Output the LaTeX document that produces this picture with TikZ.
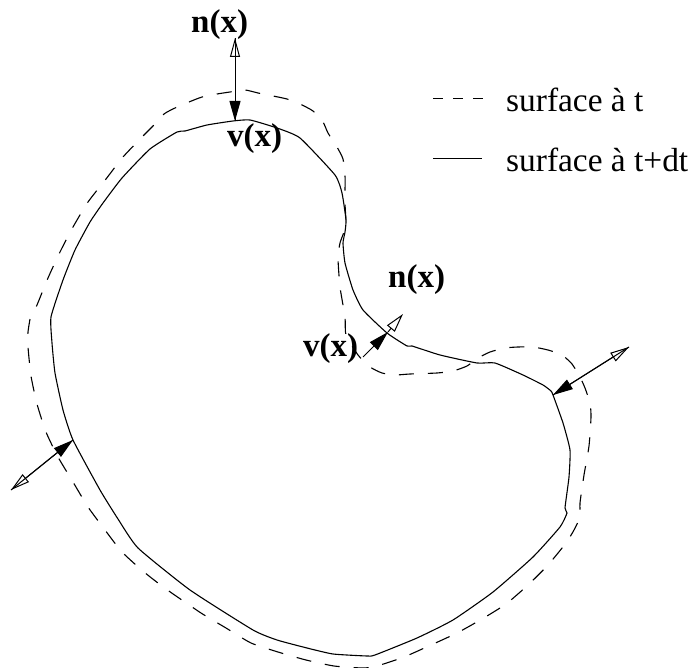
\documentclass[tikz,border=0pt]{standalone}
\usepackage{fontspec}
\setmainfont{Liberation Serif}
\usetikzlibrary{arrows.meta}

\begin{document}
\begin{tikzpicture}[
    x=1pt, y=-1pt,
    font=\fontsize{33.4}{36}\selectfont,
    surface/.style={line width=1.1pt, line join=round},
    surfacedash/.style={surface, dash pattern=on 15pt off 14pt, dash phase=15pt},
    legendtext/.style={anchor=base west, inner sep=0pt},
    vectlabel/.style={anchor=base west, inner sep=0pt, font=\fontsize{33}{36}\selectfont\bfseries},
    normalvec/.style={{Triangle[open,fill=white,length=19pt,width=10pt]}-, line width=1pt},
    speedvec/.style={-{Triangle[length=20pt,width=11pt]}, line width=1pt}
  ]
    \useasboundingbox (0,0) rectangle (691,668);
    % surface a t
    \draw[surfacedash] plot[smooth,tension=0.35] coordinates {
      (30,319) (37,305) (48,278) (60,252) (73,227) (88,202) (106,179) (123,157) (143,136)
      (153,126) (164,114) (175,108) (189,102) (202,97) (217,94) (230,92) (245,90) (258,93)
      (273,96) (287,99) (300,104) (313,111) (323,122) (328,133) (337,147) (343,159) (345,175)
      (345,203) (346,223) (344,232) (340,243) (338,258) (340,287) (345,317) (346,335) (358,355)
      (370,367) (382,373) (395,375) (410,374) (437,373) (453,371) (467,366) (478,358) (490,352)
      (505,348) (518,347) (533,347) (548,350) (562,355) (572,364) (580,377) (585,388) (590,403)
      (591,417) (589,446) (584,475) (580,503) (580,517) (574,530) (566,543) (548,565) (528,585)
      (506,604) (482,619) (457,633) (431,645) (404,657) (377,666) (363,668) (334,666) (306,660)
      (278,652) (251,643) (226,628) (201,613) (166,589) (144,572) (122,552) (105,530) (88,507)
      (73,482) (58,457) (46,432) (37,404) (31,376) (28,347) (28,332) (30,319) };
    % surface a t+dt
    \draw[surface] plot[smooth cycle,tension=0.3] coordinates {
      (51,317) (63,280) (75,250) (90,222) (103,203) (122,178) (150,149) (177,132) (185,131) (207,125)
      (233,121) (250,120) (277,128) (300,138) (335,175) (342,193) (346,220) (345,232) (343,243)
      (345,263) (353,290) (363,310) (387,333) (407,346) (412,346) (440,355) (477,363) (495,363)
      (523,375) (543,385) (551,391) (553,395) (563,423) (570,450) (569,477) (565,508) (567,513)
      (560,527) (533,557) (493,592) (453,620) (417,638) (375,655) (367,656) (333,654) (307,648)
      (277,640) (253,630) (190,590) (138,548) (118,519) (100,490) (73,440) (63,410) (55,373) (52,343) };

    \coordinate (topout) at (235,38);
    \coordinate (topfoot) at (235,121);
    \coordinate (midtail) at (363,357);
    \coordinate (midfoot) at (388,332);
    \coordinate (midout) at (403,314);
    \coordinate (rightout) at (629,347);
    \coordinate (rightfoot) at (553,395);
    \coordinate (leftout) at (11,490);
    \coordinate (leftfoot) at (73,440);

    \draw[normalvec] (topout) -- (topfoot);
    \draw[speedvec] (topout) -- (topfoot);
    \draw[normalvec] (midout) -- (midfoot);
    \draw[speedvec] (midtail) -- (midfoot);
    \draw[normalvec] (rightout) -- (rightfoot);
    \draw[speedvec] (rightout) -- (rightfoot);
    \draw[normalvec] (leftout) -- (leftfoot);
    \draw[speedvec] (leftout) -- (leftfoot);

    \node[vectlabel] (ntop) at (191,33) {n(x)};
    \node[vectlabel] (vtop) at (227,147) {v(x)};
    \node[vectlabel] (nmid) at (388,288) {n(x)};
    \node[vectlabel] (vmid) at (303,357) {v(x)};

    % legende
    \coordinate (dashstart) at (433,99);
    \coordinate (dashend) at (483,99);
    \coordinate (linestart) at (433,159);
    \coordinate (lineend) at (482,159);
    \draw[line width=1pt, dash pattern=on 10pt off 10pt] (dashstart) -- (dashend);
    \draw[line width=1pt] (linestart) -- (lineend);
    \node[legendtext] (legdash) at (506,112) {surface à t};
    \node[legendtext] (legline) at (506,172) {surface à t+dt};
\end{tikzpicture}
\end{document}
